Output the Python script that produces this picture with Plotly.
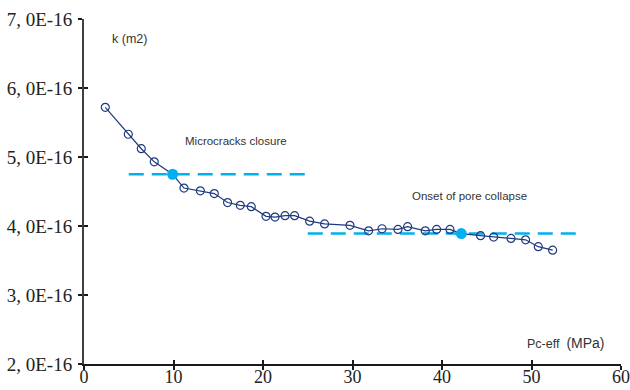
import plotly.graph_objects as go

# Permeability k versus effective confining pressure
pc_eff = [2.38, 4.95, 6.40, 7.85, 9.90, 11.17, 13.0, 14.56, 16.04, 17.46, 18.69,
          20.34, 21.34, 22.46, 23.53, 25.21, 26.88, 29.72, 31.80, 33.30, 35.08,
          36.16, 38.13, 39.40, 40.89, 42.16, 44.31, 45.77, 47.71, 49.34, 50.76, 52.36]
k_e16 = [5.72, 5.33, 5.12, 4.93, 4.75, 4.55, 4.51, 4.47, 4.34, 4.30, 4.28,
         4.14, 4.13, 4.15, 4.15, 4.07, 4.03, 4.01, 3.93, 3.96, 3.95,
         3.99, 3.93, 3.95, 3.95, 3.89, 3.86, 3.84, 3.82, 3.80, 3.70, 3.65]

# Threshold points: microcracks closure and onset of pore collapse
thr_pc = [9.90, 42.16]
thr_k_e16 = [4.75, 3.89]
thr_spans = [[5, 25], [25, 55]]
thr_labels = ["Microcracks closure", "Onset of pore collapse"]

x_ticks = [0, 10, 20, 30, 40, 50, 60]
y_ticks_e16 = [2, 3, 4, 5, 6, 7]
y_ticklabels = ["2, 0E-16", "3, 0E-16", "4, 0E-16", "5, 0E-16", "6, 0E-16", "7, 0E-16"]

E = 1e-16
k = [v * E for v in k_e16]
thr_k = [v * E for v in thr_k_e16]
y_ticks = [v * E for v in y_ticks_e16]

NAVY = "#1f3b7d"
CYAN = "#00b0f0"

fig = go.Figure()

# dashed threshold levels
for span, level in zip(thr_spans, thr_k):
    fig.add_trace(go.Scatter(
        x=span, y=[level, level], mode="lines",
        line=dict(color=CYAN, width=2.5, dash="15px,8px"),
        hoverinfo="skip", showlegend=False))

# measured curve
fig.add_trace(go.Scatter(
    x=pc_eff, y=k, mode="lines+markers",
    line=dict(color=NAVY, width=1.2),
    marker=dict(symbol="circle-open", size=8, color=NAVY, line=dict(width=1.2)),
    showlegend=False))

# highlighted threshold points (on the overlay axes, drawn on top)
fig.add_trace(go.Scatter(
    x=thr_pc, y=thr_k, mode="markers", xaxis="x2", yaxis="y2",
    marker=dict(symbol="circle", size=11, color=CYAN),
    showlegend=False))

x_range = [0, 60]
y_range = [2 * E, 7 * E]
tick_font = dict(family="Liberation Serif", size=19, color="#222222")
x_tick_font = dict(family="Liberation Serif", size=18, color="#222222")

# main axes carry the outer half of each tick, overlay axes the inner half,
# so the ticks cross the axis lines
fig.update_layout(
    width=630, height=390,
    margin=dict(l=84, r=9, t=19, b=26),
    paper_bgcolor="white", plot_bgcolor="white",
    xaxis=dict(range=x_range, tickvals=x_ticks, ticks="outside", ticklen=4,
               tickwidth=1.5, tickcolor="#1a1a1a", showline=True, linewidth=1.5,
               linecolor="#1a1a1a", showgrid=False, zeroline=False,
               showticklabels=False, automargin=False),
    yaxis=dict(range=y_range, tickvals=y_ticks, ticktext=y_ticklabels,
               ticks="outside", ticklen=4, tickwidth=1.5, tickcolor="#1a1a1a",
               showline=True, linewidth=2, linecolor="#404040",
               showgrid=False, zeroline=False, tickfont=tick_font,
               ticklabelstandoff=2, automargin=False,
               ticklabeloverflow="allow"),
    xaxis2=dict(range=x_range, tickvals=x_ticks, ticks="inside", ticklen=4,
                tickwidth=1.5, tickcolor="#1a1a1a", overlaying="x",
                showticklabels=True, tickfont=x_tick_font,
                ticklabeloverflow="allow", showgrid=False, zeroline=False,
                showline=False, automargin=False),
    yaxis2=dict(range=y_range, tickvals=y_ticks, ticks="inside", ticklen=4,
                tickwidth=1.5, tickcolor="#1a1a1a", overlaying="y", anchor="x2",
                showticklabels=False, showgrid=False, zeroline=False,
                showline=False, automargin=False),
)

label_font = dict(family="Liberation Sans", size=11.5, color="#333333")
fig.add_annotation(x=5.06, y=6.71 * E, text="k (m2)", showarrow=False,
                   font=dict(family="Liberation Sans", size=12.5, color="#333333"))
fig.add_annotation(x=16.96, y=5.23 * E, text=thr_labels[0], showarrow=False,
                   font=label_font)
fig.add_annotation(x=43.1, y=4.43 * E, text=thr_labels[1], showarrow=False,
                   font=label_font)
fig.add_annotation(x=53.8, y=2.30 * E,
                   text="Pc-eff  <span style='font-size:14px'>(MPa)</span>",
                   showarrow=False,
                   font=dict(family="Liberation Sans", size=12.5, color="#333333"))

fig.write_html("out.html")
